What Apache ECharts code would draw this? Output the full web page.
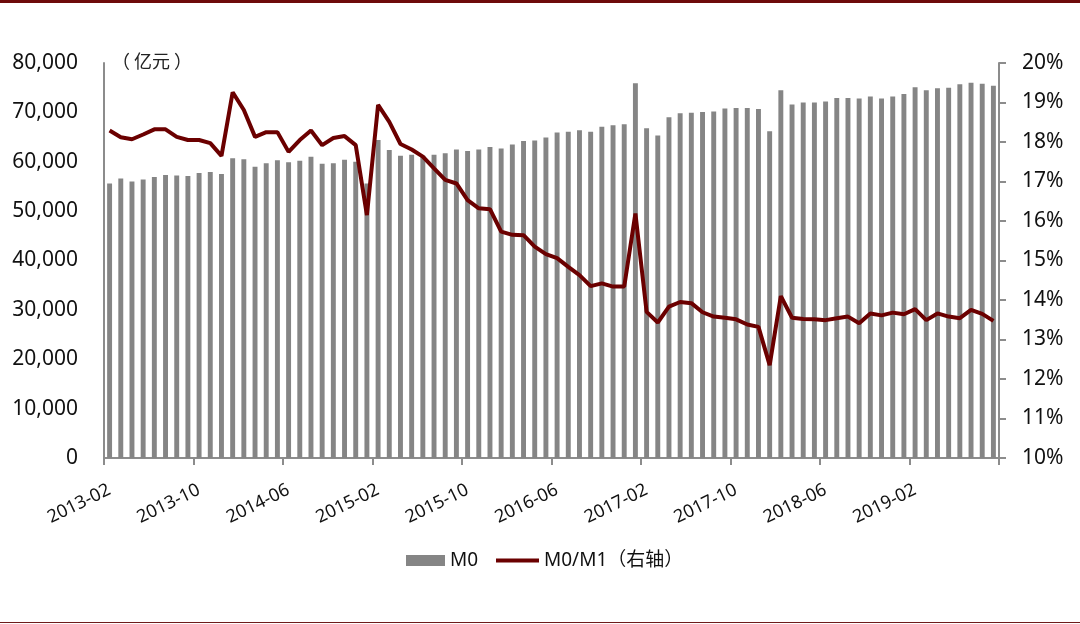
<!DOCTYPE html>
<html>
<head>
<meta charset="utf-8">
<script src="https://cdn.jsdelivr.net/npm/echarts@6/dist/echarts.min.js"></script>
<style>
html,body{margin:0;padding:0;background:#fff;}
#c{width:1080px;height:624px;}
</style>
</head>
<body>
<div id="c"></div>
<script>
var categories = [
'2013-02','2013-03','2013-04','2013-05','2013-06','2013-07','2013-08','2013-09','2013-10','2013-11','2013-12',
'2014-01','2014-02','2014-03','2014-04','2014-05','2014-06','2014-07','2014-08','2014-09','2014-10','2014-11','2014-12',
'2015-01','2015-02','2015-03','2015-04','2015-05','2015-06','2015-07','2015-08','2015-09','2015-10','2015-11','2015-12',
'2016-01','2016-02','2016-03','2016-04','2016-05','2016-06','2016-07','2016-08','2016-09','2016-10','2016-11','2016-12',
'2017-01','2017-02','2017-03','2017-04','2017-05','2017-06','2017-07','2017-08','2017-09','2017-10','2017-11','2017-12',
'2018-01','2018-02','2018-03','2018-04','2018-05','2018-06','2018-07','2018-08','2018-09','2018-10','2018-11','2018-12',
'2019-01','2019-02','2019-03','2019-04','2019-05','2019-06','2019-07','2019-08','2019-09'
];
var m0 = [
55600,56600,56000,56400,56900,57300,57200,57100,57700,57900,57500,
60700,60500,59000,59700,60300,59900,60200,61000,59600,59700,60400,60000,
55600,64400,62400,61200,61400,61200,61400,61700,62500,62200,62500,63000,
62700,63500,64200,64300,64900,65900,66100,66400,66100,67100,67400,67600,
75900,66800,65300,69000,69800,69900,70100,70200,70800,70900,70900,70700,
66200,74500,71600,72000,72000,72200,72900,72900,72800,73200,72800,73200,
73700,75100,74500,74900,75000,75700,76000,75800,75400
];
var m0m1 = [
18.29,18.12,18.07,18.19,18.32,18.32,18.13,18.05,18.05,17.97,17.65,
19.26,18.81,18.13,18.25,18.25,17.75,18.05,18.29,17.92,18.10,18.15,17.92,
16.15,18.94,18.51,17.95,17.81,17.63,17.33,17.04,16.95,16.53,16.32,16.30,
15.73,15.65,15.64,15.35,15.16,15.06,14.84,14.63,14.35,14.42,14.34,14.34,
16.19,13.70,13.43,13.83,13.95,13.92,13.69,13.58,13.55,13.51,13.38,13.32,
12.35,14.10,13.55,13.52,13.51,13.49,13.54,13.58,13.41,13.66,13.61,13.68,
13.64,13.77,13.49,13.66,13.58,13.54,13.75,13.65,13.47
];
var seriesNames = ['M0', 'M0/M1（右轴）'];
var unitLabel = '（ 亿元 ）';

var FONT = "'Noto Sans', 'Noto Sans CJK SC', sans-serif";
var chart = echarts.init(document.getElementById('c'), null, {renderer: 'canvas'});
chart.setOption({
  animation: false,
  backgroundColor: '#ffffff',
  textStyle: {fontFamily: FONT},
  graphic: [
    {type: 'rect', shape: {x: 0, y: 0, width: 1080, height: 3}, style: {fill: '#6e0b0b'}},
    {type: 'rect', shape: {x: 0, y: 622, width: 1080, height: 1}, style: {fill: '#6e1a1a'}},
    {type: 'text', left: 112, top: 52, style: {text: unitLabel, font: "18px 'Noto Sans CJK SC'", fill: '#222'}}
  ],
  legend: [
    {
      left: 401, top: 546,
      itemWidth: 39, itemHeight: 11,
      textStyle: {fontSize: 19, color: '#111', fontFamily: FONT},
      data: [{name: seriesNames[0], icon: 'rect'}]
    },
    {
      left: 491, top: 546,
      itemWidth: 43, itemHeight: 4, itemGap: 0,
      textStyle: {fontSize: 19, color: '#111', fontFamily: FONT},
      data: [{name: seriesNames[1], icon: 'rect'}]
    }
  ],
  grid: {left: 104, right: 81, top: 63, bottom: 166, containLabel: false},
  xAxis: {
    type: 'category',
    data: categories,
    boundaryGap: true,
    axisLine: {show: true, lineStyle: {color: '#8c8c8c', width: 2}},
    axisTick: {show: true, interval: 7, length: 7, lineStyle: {color: '#8c8c8c', width: 2}},
    axisLabel: {interval: 7, rotate: 26, fontSize: 18, color: '#111', margin: 31, fontFamily: FONT}
  },
  yAxis: [
    {
      type: 'value', min: 0, max: 80000, interval: 10000,
      axisLine: {show: true, lineStyle: {color: '#8c8c8c', width: 2}},
      axisTick: {show: false},
      splitLine: {show: false},
      axisLabel: {fontSize: 21, color: '#111', margin: 26, fontFamily: FONT,
        formatter: function(v){ return v.toString().replace(/\B(?=(\d{3})+(?!\d))/g, ','); }}
    },
    {
      type: 'value', min: 10, max: 20, interval: 1, position: 'right',
      axisLine: {show: true, lineStyle: {color: '#8c8c8c', width: 2}},
      axisTick: {show: true, length: 7, lineStyle: {color: '#8c8c8c', width: 2}},
      splitLine: {show: false},
      axisLabel: {fontSize: 21, color: '#111', margin: 23, fontFamily: FONT, formatter: '{value}%'}
    }
  ],
  series: [
    {
      name: seriesNames[0], type: 'bar', data: m0, yAxisIndex: 0,
      barWidth: '44%',
      itemStyle: {color: '#858585'}
    },
    {
      name: seriesNames[1], type: 'line', data: m0m1, yAxisIndex: 1,
      symbol: 'none', showSymbol: false,
      lineStyle: {color: '#6b0000', width: 4},
      itemStyle: {color: '#6b0000'}
    }
  ]
});
</script>
</body>
</html>
